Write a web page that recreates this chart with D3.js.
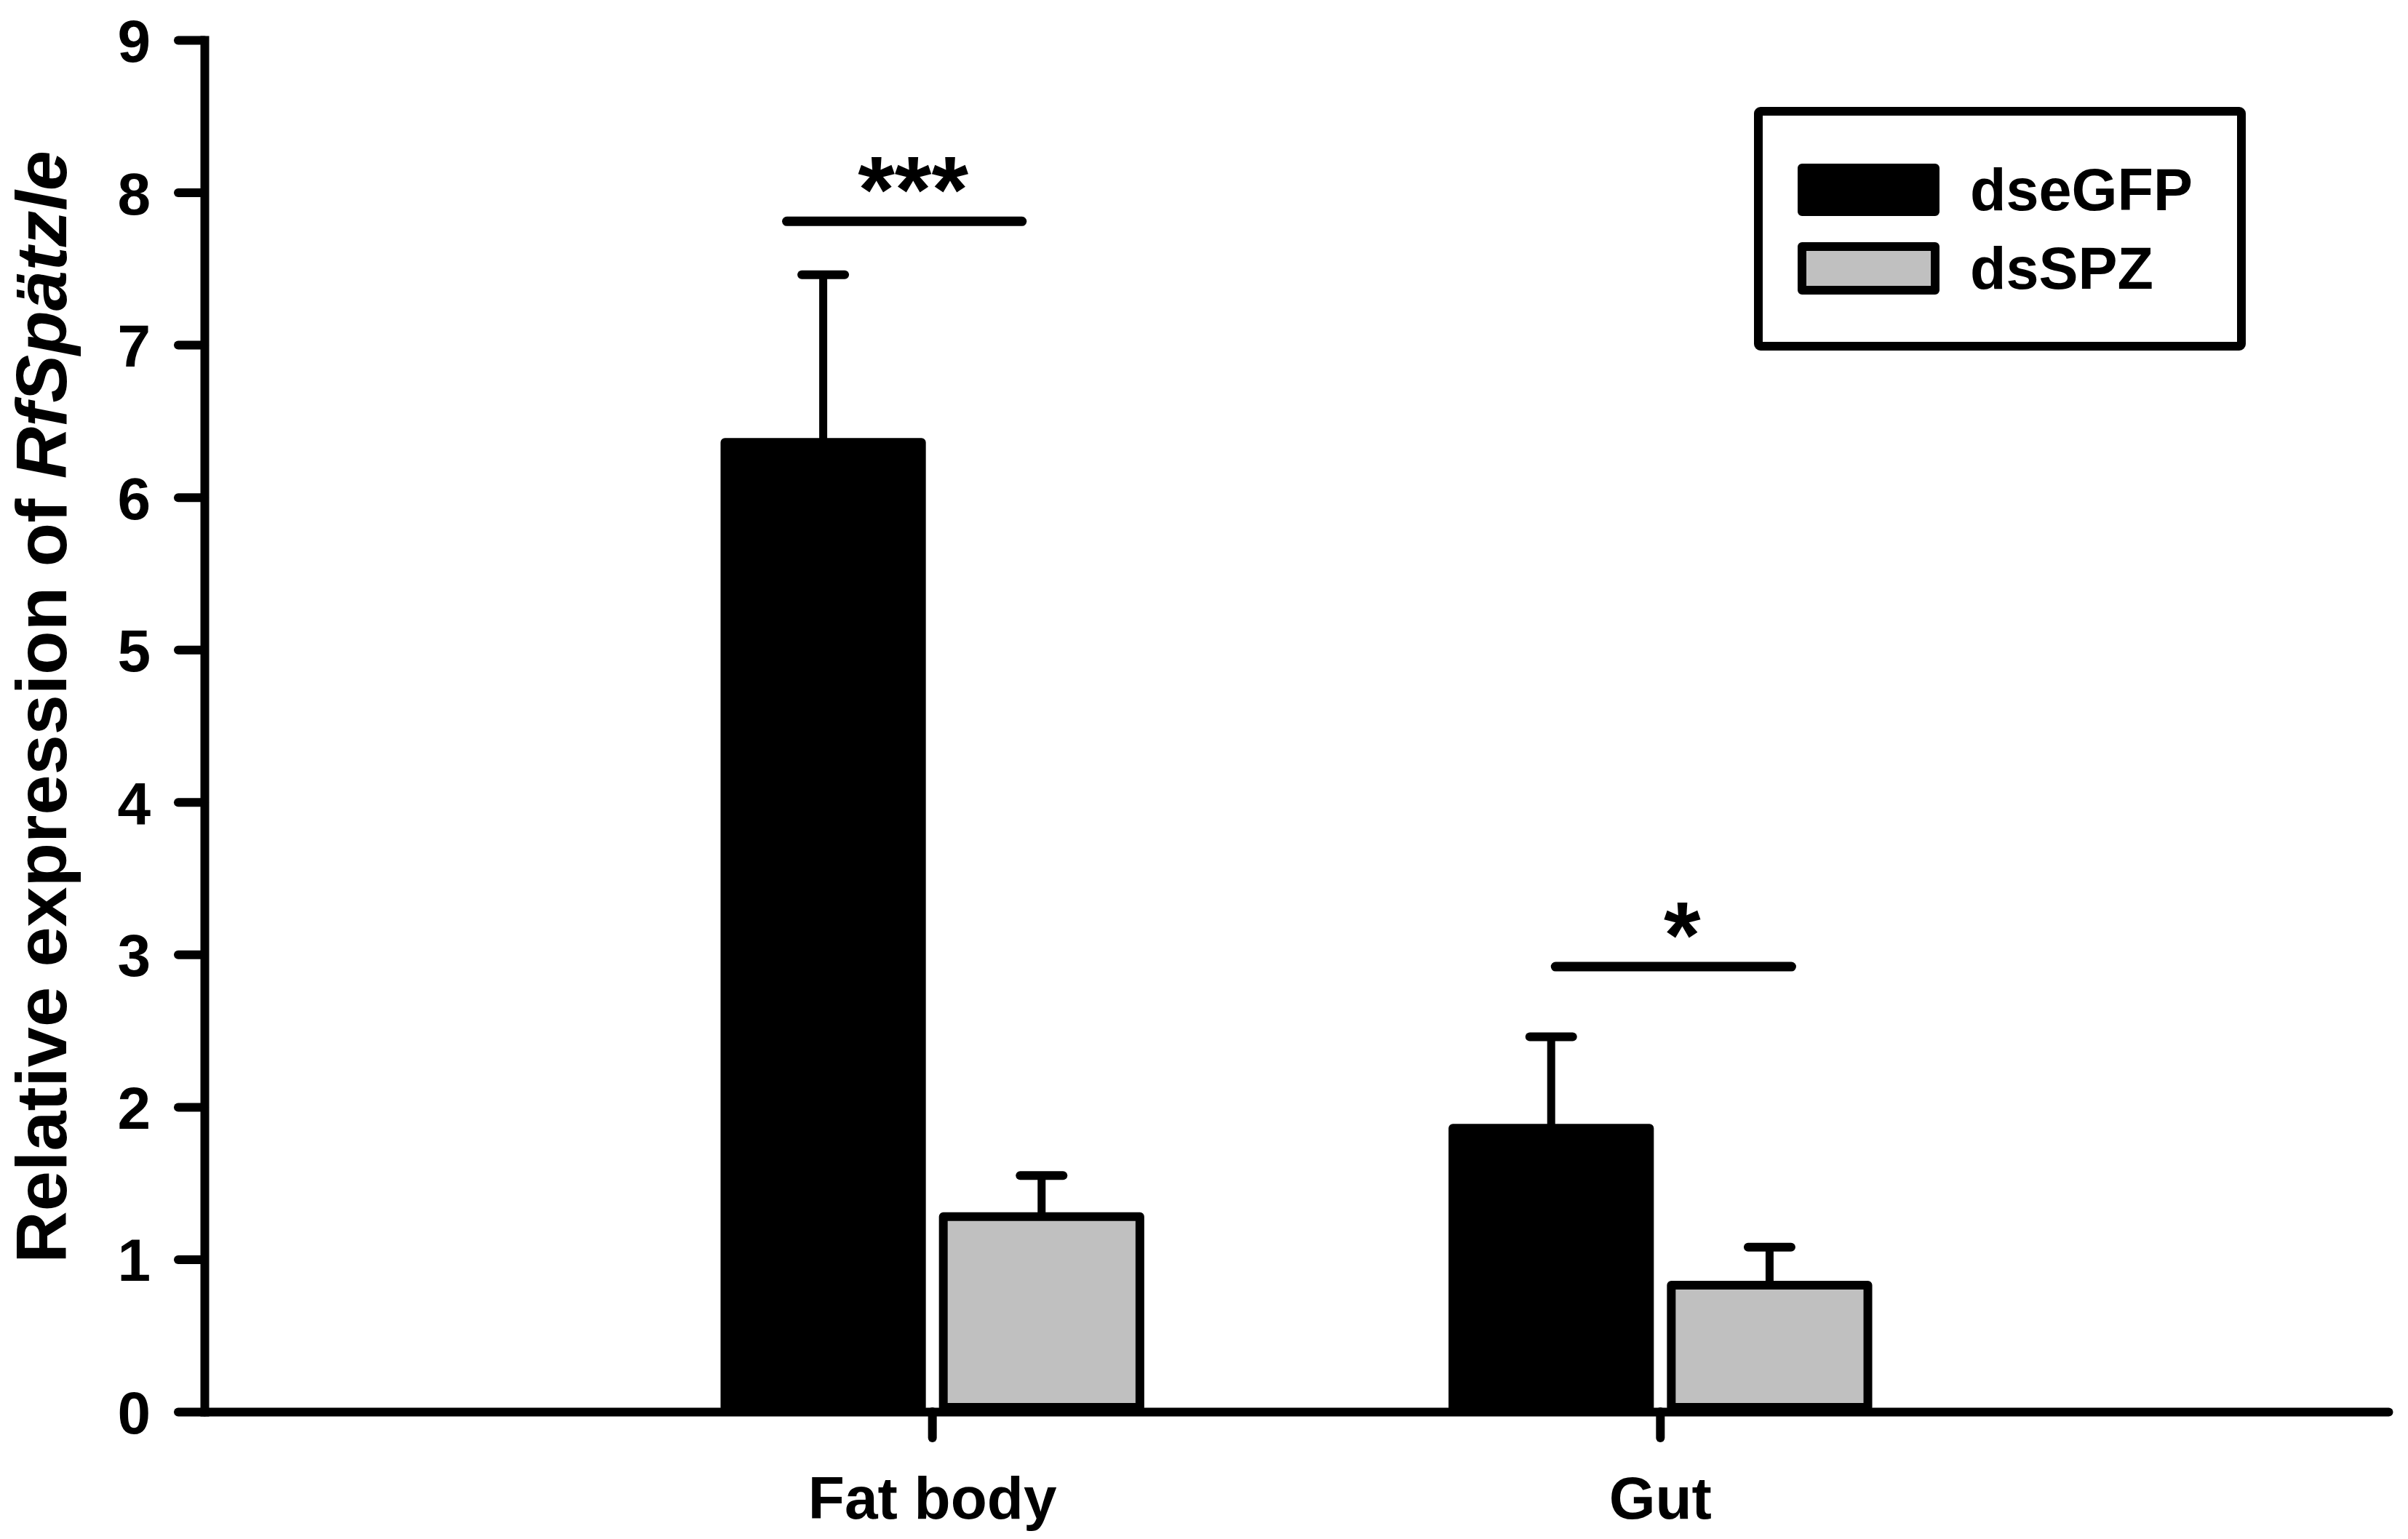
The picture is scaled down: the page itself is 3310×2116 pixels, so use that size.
<!DOCTYPE html>
<html>
<head>
<meta charset="utf-8">
<script src="https://cdn.jsdelivr.net/npm/d3@7"></script>
<style>
  html, body { margin: 0; padding: 0; background: #ffffff; overflow: hidden; }
  svg { display: block; }
  text { font-family: "Liberation Sans", Arial, "DejaVu Sans", sans-serif; font-weight: bold; fill: #000; }
</style>
</head>
<body>
<div id="chart"></div>
<script>
// ---------------- data ----------------
const categories = ["Fat body", "Gut"];
const seriesNames = ["dseGFP", "dsSPZ"];
const dseGFPMeans = [6.36, 1.86];
const dseGFPErrors = [1.10, 0.60];
const dsSPZMeans = [1.28, 0.83];
const dsSPZErrors = [0.27, 0.25];
const yTicks = [0, 1, 2, 3, 4, 5, 6, 7, 8, 9];
const yTitleMain = "Relative expression of ";
const yTitleGene = "RfSpätzle";
const sigGroups = ["Fat body", "Gut"];
const sigLevels = [7.81, 2.92];
const sigLabels = ["***", "*"];

// ---------------- layout ----------------
const W = 3310, H = 2116;
const X_LEFT = 281, X_RIGHT = 3283, Y_TOP = 55, Y_BOTTOM = 1941;
const AXIS_W = 12, TICK_LEN = 36;
const BAR_STROKE = 12;
const fillColors = { dseGFP: "#000000", dsSPZ: "#c0c0c0" };
// sig line span as fraction of group bandwidth relative to group centre (left, right)
const sigSpan = { "Fat body": [-0.200, 0.123], "Gut": [-0.144, 0.180] };

const svg = d3.select("#chart").append("svg")
  .attr("width", W).attr("height", H)
  .attr("viewBox", `0 0 ${W} ${H}`);
svg.append("rect").attr("width", W).attr("height", H).attr("fill", "#fff");

const y = d3.scaleLinear().domain([0, 9]).range([Y_BOTTOM, Y_TOP]);
const x0 = d3.scaleBand().domain(categories).range([X_LEFT, X_RIGHT])
  .paddingInner(0).paddingOuter(0.5);
const x1 = d3.scaleBand().domain(seriesNames)
  .range([x0.bandwidth() * 0.2, x0.bandwidth() * 0.8])
  .paddingInner(0.06).paddingOuter(0.03);

const rows = [];
categories.forEach((c, i) => {
  rows.push({ cat: c, series: "dseGFP", mean: dseGFPMeans[i], err: dseGFPErrors[i] });
  rows.push({ cat: c, series: "dsSPZ", mean: dsSPZMeans[i], err: dsSPZErrors[i] });
});

// ---------------- error bars (behind bars) ----------------
const eb = svg.append("g").attr("class", "errorbars");
const capHalf = 29.5;
rows.forEach(d => {
  const cx = x0(d.cat) + x1(d.series) + x1.bandwidth() / 2;
  eb.append("line")
    .attr("x1", cx).attr("x2", cx)
    .attr("y1", y(d.mean)).attr("y2", y(d.mean + d.err))
    .attr("stroke", "#000").attr("stroke-width", 11);
  eb.append("line")
    .attr("x1", cx - capHalf).attr("x2", cx + capHalf)
    .attr("y1", y(d.mean + d.err)).attr("y2", y(d.mean + d.err))
    .attr("stroke", "#000").attr("stroke-width", 12).attr("stroke-linecap", "round");
});

// ---------------- bars ----------------
svg.append("g").attr("class", "bars")
  .selectAll("rect").data(rows).join("rect")
  .attr("x", d => x0(d.cat) + x1(d.series) + BAR_STROKE / 2)
  .attr("width", x1.bandwidth() - BAR_STROKE)
  .attr("y", d => y(d.mean))
  .attr("height", d => y(0) - y(d.mean) - AXIS_W / 2)
  .attr("fill", d => fillColors[d.series])
  .attr("stroke", "#000")
  .attr("stroke-width", BAR_STROKE)
  .attr("stroke-linejoin", "round");

// ---------------- axes ----------------
const yAxis = d3.axisLeft(y).tickValues(yTicks).tickSize(TICK_LEN).tickSizeOuter(0).tickPadding(38);
const gy = svg.append("g").attr("transform", `translate(${X_LEFT},0)`).call(yAxis);
gy.select(".domain").attr("stroke", "#000").attr("stroke-width", AXIS_W).attr("stroke-linecap", "square");
gy.selectAll(".tick line").attr("stroke", "#000").attr("stroke-width", AXIS_W).attr("stroke-linecap", "round");
gy.selectAll(".tick text").attr("font-size", 82).attr("dy", "0.36em")
  .style("font-family", '"Liberation Sans", Arial, sans-serif').style("font-weight", "bold");

const xAxis = d3.axisBottom(x0).tickSize(TICK_LEN).tickSizeOuter(0).tickPadding(0);
const gx = svg.append("g").attr("transform", `translate(0,${Y_BOTTOM})`).call(xAxis);
gx.select(".domain").attr("stroke", "#000").attr("stroke-width", AXIS_W).attr("stroke-linecap", "round");
gx.selectAll(".tick line").attr("stroke", "#000").attr("stroke-width", AXIS_W).attr("stroke-linecap", "round");
gx.selectAll(".tick text").attr("font-size", 82).attr("y", 147).attr("dy", 0)
  .style("font-family", '"Liberation Sans", Arial, sans-serif').style("font-weight", "bold");

// ---------------- y title ----------------
const title = svg.append("text")
  .attr("transform", `translate(91, 972) rotate(-90)`)
  .attr("text-anchor", "middle")
  .attr("font-size", 99);
title.append("tspan").text(yTitleMain);
title.append("tspan").attr("font-style", "italic").text(yTitleGene);

// ---------------- significance ----------------
const sg = svg.append("g").attr("class", "sig");
sigGroups.forEach((g, i) => {
  const c = x0(g) + x0.bandwidth() / 2;
  const xa = c + sigSpan[g][0] * x0.bandwidth();
  const xb = c + sigSpan[g][1] * x0.bandwidth();
  const yy = y(sigLevels[i]);
  sg.append("line").attr("x1", xa).attr("x2", xb).attr("y1", yy).attr("y2", yy)
    .attr("stroke", "#000").attr("stroke-width", 13).attr("stroke-linecap", "round");
  sg.append("text").attr("x", (xa + xb) / 2 + 12).attr("y", yy + 2)
    .attr("text-anchor", "middle").attr("font-size", 130).text(sigLabels[i]);
});

// ---------------- legend ----------------
const lg = svg.append("g").attr("class", "legend");
lg.append("rect").attr("x", 2417).attr("y", 153).attr("width", 664).attr("height", 323)
  .attr("fill", "#fff").attr("stroke", "#000").attr("stroke-width", 12).attr("rx", 3);
seriesNames.forEach((s, i) => {
  const ry = 231 + i * 108;
  lg.append("rect").attr("x", 2477).attr("y", ry).attr("width", 183).attr("height", 60)
    .attr("fill", fillColors[s]).attr("stroke", "#000").attr("stroke-width", 12)
    .attr("stroke-linejoin", "round");
  lg.append("text").attr("x", 2708).attr("y", ry + 58).attr("font-size", 81).text(s);
});
</script>
</body>
</html>
